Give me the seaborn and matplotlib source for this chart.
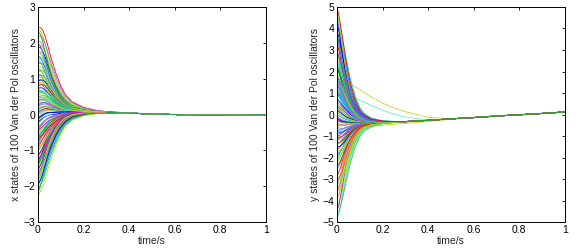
import numpy as np
import pandas as pd
import matplotlib
matplotlib.use("Agg")
import matplotlib.pyplot as plt
import seaborn as sns

# sample times (s)
t = [0, 0.01, 0.02, 0.03, 0.04, 0.05, 0.06, 0.08, 0.1, 0.12, 0.15,
     0.2, 0.25, 0.3, 0.4, 0.5, 0.6, 0.7, 0.8, 0.9, 1.0]

# x states: initial values
x0 = [2.42, 2.36, 2.31, 2.18, 2.05, 1.97, 1.92, 1.88, 1.80, 1.74, 1.71, 1.63,
      1.58, 1.55, 1.49, 1.41, 1.33, 1.27, 1.21, 1.19, 1.12, 1.06, 1.02, 0.98,
      0.93, 0.88, 0.85, 0.79, 0.72, 0.66, 0.61, 0.58, 0.53, 0.47, 0.44, 0.40,
      0.37, 0.34, 0.29, 0.25, 0.22, 0.17, 0.13, 0.11, 0.06, 0.01, -0.02, -0.05,
      -0.10, -0.13, -0.16, -0.21, -0.24, -0.27, -0.33, -0.38, -0.42, -0.45,
      -0.51, -0.56, -0.59, -0.63, -0.66, -0.69, -0.74, -0.77, -0.81, -0.87,
      -0.92, -0.96, -0.99, -1.05, -1.11, -1.14, -1.18, -1.24, -1.27, -1.30,
      -1.33, -1.37, -1.43, -1.49, -1.52, -1.56, -1.62, -1.69, -1.71, -1.75,
      -1.82, -1.88, -1.91, -1.95, -2.02, -2.06, -2.10, -2.18, -2.25]
# common (synchronised) x trajectory
x_common = [0.0, 0.05, 0.09, 0.12, 0.13, 0.13, 0.12, 0.11, 0.10, 0.095, 0.09,
            0.08, 0.07, 0.06, 0.04, 0.015, 0.0, -0.02, -0.02, -0.012, -0.005]
# relative distance to the common trajectory
x_env_slow = [1, 0.98, 0.94, 0.86, 0.77, 0.67, 0.58, 0.42, 0.29, 0.19, 0.11,
              0.05, 0.022, 0.009, 0.002, 0, 0, 0, 0, 0, 0]
x_env_mid = [1, 0.97, 0.9, 0.8, 0.69, 0.59, 0.5, 0.34, 0.23, 0.15, 0.08,
             0.033, 0.013, 0.005, 0.001, 0, 0, 0, 0, 0, 0]
x_env_fast = [1, 0.95, 0.85, 0.72, 0.6, 0.49, 0.4, 0.26, 0.16, 0.1, 0.05,
              0.018, 0.007, 0.003, 0, 0, 0, 0, 0, 0, 0]

# y states: initial values
y0 = [5.0, 4.8, 4.55, 4.45, 4.3, 4.1, 3.9, 3.7, 3.6, 3.5, 3.32, 3.15, 2.98,
      2.9, 2.8, 2.64, 2.5, 2.35, 2.28, 2.2, 2.07, 1.94, 1.82, 1.76, 1.7, 1.6,
      1.55, 1.5, 1.4, 1.35, 1.3, 1.2, 1.1, 1.05, 1.0, 0.9, 0.8, 0.75, 0.7, 0.6,
      0.5, 0.45, 0.4, 0.3, 0.2, 0.15, 0.1, 0.0, -0.1, -0.15, -0.2, -0.25, -0.3,
      -0.4, -0.45, -0.5, -0.6, -0.7, -0.75, -0.8, -0.9, -1.0, -1.05, -1.1,
      -1.2, -1.3, -1.35, -1.4, -1.5, -1.6, -1.65, -1.72, -1.85, -1.98, -2.0,
      -2.1, -2.25, -2.35, -2.4, -2.55, -2.7, -2.8, -2.85, -3.0, -3.15, -3.3,
      -3.4, -3.48, -3.65, -3.82, -3.9, -4.0, -4.2, -4.4, -4.5, -4.6, -4.85]
y_common = [-0.2, -0.25, -0.3, -0.33, -0.35, -0.36, -0.37, -0.37, -0.37, -0.37,
            -0.37, -0.36, -0.35, -0.33, -0.27, -0.2, -0.14, -0.07, -0.01, 0.05,
            0.12]
y_env_slow = [1, 0.95, 0.86, 0.75, 0.63, 0.52, 0.42, 0.26, 0.15, 0.09, 0.045,
              0.015, 0.006, 0.002, 0, 0, 0, 0, 0, 0, 0]
y_env_mid = [1, 0.92, 0.8, 0.67, 0.55, 0.44, 0.34, 0.2, 0.11, 0.065, 0.03,
             0.01, 0.004, 0.001, 0, 0, 0, 0, 0, 0, 0]
y_env_fast = [1, 0.9, 0.75, 0.6, 0.47, 0.36, 0.27, 0.15, 0.08, 0.045, 0.02,
              0.007, 0.002, 0.001, 0, 0, 0, 0, 0, 0, 0]
# three slow oscillators that stand out in the y panel
y_yellow_hi = [1.68, 1.66, 1.63, 1.58, 1.53, 1.48, 1.42, 1.30, 1.16, 1.02, 0.82,
               0.53, 0.31, 0.13, -0.13, -0.2, -0.14, -0.07, -0.01, 0.05, 0.12]
y_cyan = [2.4, 1.9, 1.5, 1.22, 1.04, 0.93, 0.85, 0.75, 0.66, 0.57, 0.43,
          0.2, 0.02, -0.12, -0.25, -0.2, -0.14, -0.07, -0.01, 0.05, 0.12]
y_yellow_lo = [-1.2, -1.0, -0.85, -0.75, -0.69, -0.66, -0.64, -0.62, -0.6, -0.58,
               -0.55, -0.5, -0.45, -0.41, -0.32, -0.22, -0.15, -0.07, -0.01, 0.05,
               0.12]

n = len(x0)
# MATLAB-like line colours, assigned to oscillators in a scrambled way
line_colors = ["#ff0000", "#00b000", "#0000ff", "#00e0e0", "#e000e0", "#c8d000",
               "#ff6060", "#40c040", "#6060ff", "#60ffd0", "#b050ff", "#90e040",
               "#d00000", "#00d060", "#3090ff", "#ff40a0", "#a0e000", "#30c0c0"]
scramble = [(np.sin(i * 12.9898) * 43758.5453) % 1 for i in range(n)]
colors = [line_colors[int(s * len(line_colors)) % len(line_colors)] for s in scramble]


def long_frame(v0, common, envs, shift):
    rows = []
    tt = np.array(t)
    c = np.array(common)
    for i, v in enumerate(v0):
        env = np.array(envs[(i + shift) % 3])
        vals = c + (v - c[0]) * env
        rows.append(pd.DataFrame({"t": tt, "v": vals, "osc": f"o{i:03d}"}))
    return pd.concat(rows, ignore_index=True)


dfx = long_frame(x0, x_common, [x_env_slow, x_env_mid, x_env_fast], 0)
dfy = long_frame(y0, y_common, [y_env_slow, y_env_mid, y_env_fast], 1)
pal_x = {f"o{i:03d}": colors[i] for i in range(n)}
pal_y = {f"o{i:03d}": colors[(i * 37) % n] for i in range(n)}

extras = pd.concat([pd.DataFrame({"t": t, "v": y_yellow_hi, "osc": "s1"}),
                    pd.DataFrame({"t": t, "v": y_cyan, "osc": "s2"}),
                    pd.DataFrame({"t": t, "v": y_yellow_lo, "osc": "s3"})],
                   ignore_index=True)
pal_y.update({"s1": "#c8d820", "s2": "#60f0c0", "s3": "#c8d820"})

# draw in scrambled order
draw = sorted(range(n), key=lambda i: scramble[(i * 7) % n])
x_order = [f"o{i:03d}" for i in draw]
y_order = ["s1", "s2", "s3"] + [f"o{i:03d}" for i in draw[::-1]]
dfy = pd.concat([extras, dfy], ignore_index=True)

# synchronised tail (all oscillators together), drawn on top
tail_x = pd.DataFrame({"t": t, "v": x_common}).query("t >= 0.3")
tail_y = pd.DataFrame({"t": t, "v": y_common}).query("t >= 0.3")

sns.set_style("white")
plt.rcParams['font.family'] = ['Liberation Sans', 'DejaVu Sans']
plt.rcParams['font.size'] = 7.5

fig = plt.figure(figsize=(5.81, 2.49), dpi=100)
ax1 = fig.add_axes([0.0654, 0.108, 0.392, 0.864])
ax2 = fig.add_axes([0.580, 0.108, 0.392, 0.864])

sns.lineplot(data=dfx, x="t", y="v", hue="osc", hue_order=x_order, palette=pal_x,
             estimator=None, sort=False, legend=False, lw=0.6, ax=ax1)
sns.lineplot(data=tail_x, x="t", y="v", color="#2aa060", lw=0.9,
             estimator=None, sort=False, ax=ax1)
sns.lineplot(data=dfy, x="t", y="v", hue="osc", hue_order=y_order, palette=pal_y,
             estimator=None, sort=False, legend=False, lw=0.6, ax=ax2)
sns.lineplot(data=tail_y, x="t", y="v", color="#30a030", lw=0.9,
             estimator=None, sort=False, ax=ax2)

for ax, lim, lab in [(ax1, 3, "x states of 100 Van der Pol oscillators"),
                     (ax2, 5, "y states of 100 Van der Pol oscillators")]:
    ax.set_xlim(0, 1)
    ax.set_ylim(-lim, lim)
    ax.set_xticks([0, 0.2, 0.4, 0.6, 0.8, 1])
    ax.set_xticklabels(["0", "0.2", "0.4", "0.6", "0.8", "1"])
    ax.set_yticks(range(-lim, lim + 1))
    ax.set_xlabel("time/s", fontsize=7.5, labelpad=1)
    ax.set_ylabel(lab, fontsize=7.5, labelpad=2)
    ax.tick_params(direction="in", length=2.5, width=0.6, labelsize=7.5,
                   top=True, right=True, pad=2, colors="black")
    for s in ax.spines.values():
        s.set_color("black")
        s.set_linewidth(0.7)

fig.savefig("out.png", dpi=100)
